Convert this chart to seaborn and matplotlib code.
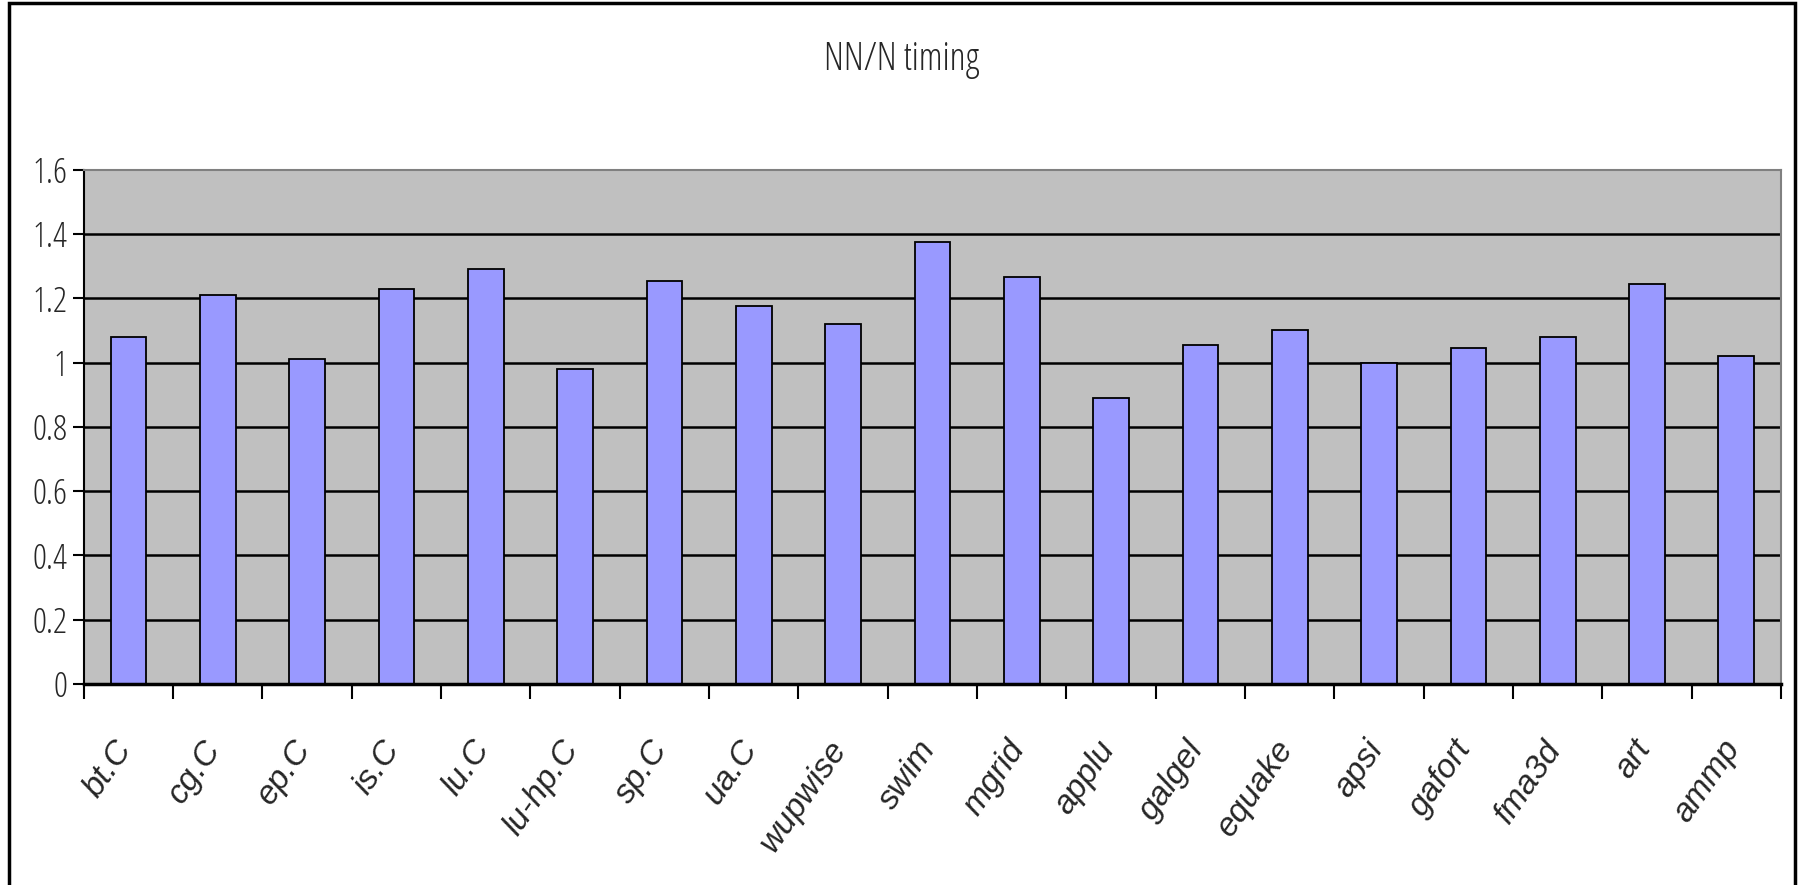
import matplotlib
matplotlib.use("Agg")
import matplotlib.pyplot as plt
from matplotlib import font_manager as fm
import seaborn as sns
import pandas as pd
from matplotlib.patches import Rectangle

benchmarks = ["bt.C", "cg.C", "ep.C", "is.C", "lu.C", "lu-hp.C", "sp.C", "ua.C",
              "wupwise", "swim", "mgrid", "applu", "galgel", "equake", "apsi",
              "gafort", "fma3d", "art", "ammp"]
ratio = [1.08, 1.21, 1.01, 1.23, 1.29, 0.98, 1.255, 1.175, 1.12, 1.375, 1.265,
         0.89, 1.055, 1.10, 1.00, 1.045, 1.08, 1.245, 1.02]
y_ticks = [0, 0.2, 0.4, 0.6, 0.8, 1.0, 1.2, 1.4, 1.6]
y_tick_labels = ["0", "0.2", "0.4", "0.6", "0.8", "1", "1.2", "1.4", "1.6"]
title = "NN/N timing"

sns.set_theme(style="white")

# narrow light sans face for the title and value axis
have_open_cond = any(f.name == "Open Sans" and f.stretch == "condensed"
                     for f in fm.fontManager.ttflist)
if have_open_cond:
    plt.rcParams["font.family"] = ["Open Sans", "DejaVu Sans"]
    plt.rcParams["font.stretch"] = "condensed"
    plt.rcParams["font.weight"] = 300
else:
    plt.rcParams["font.family"] = ["Liberation Sans", "DejaVu Sans"]

# category labels use a regular-width italic face
italic_family = "DejaVu Sans"
for fam in ["Arimo", "Liberation Sans"]:
    if any(f.name == fam and f.style == "italic" for f in fm.fontManager.ttflist):
        italic_family = fam
        break
cat_font = fm.FontProperties(family=[italic_family, "DejaVu Sans"], style="italic",
                             weight="normal", stretch="normal", size=24)

df = pd.DataFrame({"bench": benchmarks, "ratio": ratio})

fig = plt.figure(figsize=(17.99, 8.85), dpi=100)
ax = fig.add_axes([0.0466, 0.2273, 0.9434, 0.5808])
ax.set_facecolor("#C0C0C0")

# horizontal grid lines behind the bars
for v in y_ticks[1:-1]:
    ax.axhline(v, color="black", lw=1.8, zorder=0.5)

sns.barplot(data=df, x="bench", y="ratio", ax=ax, color="#9999FF", width=0.4,
            edgecolor="black", linewidth=1.3, saturation=1, zorder=2)

ax.set_xlim(-0.5, len(benchmarks) - 0.5)
ax.set_ylim(0, 1.6)
ax.set_xlabel("")
ax.set_ylabel("")

ax.set_yticks(y_ticks)
ax.set_yticklabels(y_tick_labels, fontsize=25)
ax.tick_params(axis="y", which="major", direction="out", length=8, width=1.5,
               color="black", pad=4, left=True)

# category labels under each bar, tick marks between categories
ax.set_xticks([i - 0.03 for i in range(len(benchmarks))])
ax.set_xticklabels(benchmarks, fontproperties=cat_font, rotation=55,
                   ha="right", va="center", rotation_mode="anchor")
ax.tick_params(axis="x", which="major", length=0, pad=43)
ax.set_xticks([i - 0.5 for i in range(len(benchmarks) + 1)], minor=True)
ax.tick_params(axis="x", which="minor", direction="out", length=11, width=1.5,
               color="black", bottom=True)

for side in ["top", "right"]:
    ax.spines[side].set_color("#808080")
    ax.spines[side].set_linewidth(1.5)
ax.spines["left"].set_color("black")
ax.spines["left"].set_linewidth(1.5)
ax.spines["bottom"].set_color("black")
ax.spines["bottom"].set_linewidth(2.5)
ax.spines["bottom"].set_zorder(3)

fig.text(0.5014, 0.932, title, ha="center", va="center", fontsize=27)

# chart frame
fig.patches.append(Rectangle((0.005, -0.05), 0.993, 1.047, transform=fig.transFigure,
                             fill=False, edgecolor="black", linewidth=2.5))

fig.savefig("out.png", dpi=100)
